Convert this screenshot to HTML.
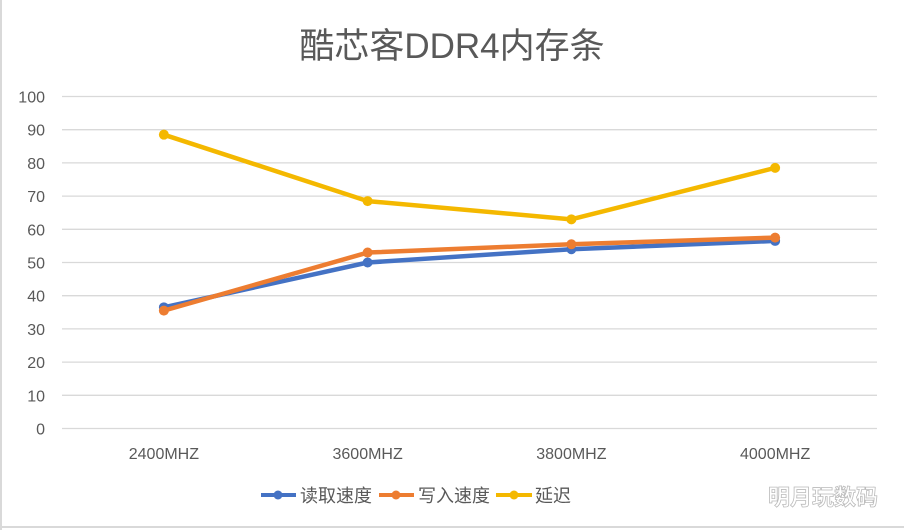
<!DOCTYPE html>
<html><head><meta charset="utf-8"><style>
html,body{margin:0;padding:0;background:#fff}
svg{display:block}
text{font-family:"Liberation Sans","Noto Sans CJK SC",sans-serif}
</style></head><body>
<svg id="c" width="904" height="530" xmlns="http://www.w3.org/2000/svg">
<rect x="0" y="0" width="904" height="530" fill="#fff"/>
<line x1="1" y1="0" x2="1" y2="530" stroke="#d9d9d9" stroke-width="2"/>
<line x1="0" y1="527" x2="904" y2="527" stroke="#d9d9d9" stroke-width="2"/>
<text x="452" y="58" text-anchor="middle" font-size="35" fill="#595959">酷芯客DDR4内存条</text>
<g id="grid"></g><g id="xl"></g><g id="series"></g>
<g>
<g><line x1="261" y1="495" x2="296" y2="495" stroke="#4472c4" stroke-width="4"/><circle cx="278" cy="495" r="4.5" fill="#4472c4"/><text x="300" y="502" font-size="18" fill="#595959">读取速度</text></g>
<g><line x1="379" y1="495" x2="414" y2="495" stroke="#ed7d31" stroke-width="4"/><circle cx="396" cy="495" r="4.5" fill="#ed7d31"/><text x="418" y="502" font-size="18" fill="#595959">写入速度</text></g>
<g><line x1="496" y1="495" x2="532" y2="495" stroke="#f4b800" stroke-width="4"/><circle cx="514" cy="495" r="4.5" fill="#f4b800"/><text x="535" y="502" font-size="18" fill="#595959">延迟</text></g>
</g>
<text x="823" y="505" text-anchor="middle" font-size="22" font-weight="bold" fill="#fff" stroke="#bbb" stroke-width="0.8">明月玩数码</text>
</svg>
<script>
const categories=["2400MHZ","3600MHZ","3800MHZ","4000MHZ"];
const readSpeed=[36.5,50,54,56.5];
const writeSpeed=[35.5,53,55.5,57.5];
const latency=[88.5,68.5,63,78.5];
const yTicks=[0,10,20,30,40,50,60,70,80,90,100];
const NS="http://www.w3.org/2000/svg";
const X0=62,X1=877,Y0=428.5,Y100=96.5;
const xs=i=>X0+(X1-X0)/categories.length*(i+0.5);
const ys=v=>Y0+(Y100-Y0)*v/100;
function mk(t,a,p){const e=document.createElementNS(NS,t);for(const k in a)e.setAttribute(k,a[k]);p.appendChild(e);return e;}
const g=document.getElementById('grid');
yTicks.forEach(v=>{
 const l=mk('line',{x1:X0,x2:X1,y1:ys(v),y2:ys(v),stroke:'#d9d9d9','stroke-width':1.3},g);
 
 
 const t=mk('text',{x:45,y:ys(v)+6,'text-anchor':'end','font-size':16,fill:'#595959'},g);
 t.textContent=v;
 
 
});
const xl=document.getElementById('xl');
categories.forEach((c,i)=>{
 const t=mk('text',{x:xs(i),y:459,'text-anchor':'middle','font-size':16,fill:'#595959'},xl);
 t.textContent=c;
 
 
});
const sg=document.getElementById('series');
[[readSpeed,'#4472c4','read-speed'],[writeSpeed,'#ed7d31','write-speed'],[latency,'#f4b800','latency']].forEach(([d,col,n])=>{
 const p=mk('polyline',{points:d.map((v,i)=>xs(i)+','+ys(v)).join(' '),fill:'none',stroke:col,'stroke-width':4.5,'stroke-linejoin':'round'},sg);
 
 
 d.forEach((v,i)=>{
  const c=mk('circle',{cx:xs(i),cy:ys(v),r:5,fill:col},sg);
  
  
 });
});
</script>
</body></html>
